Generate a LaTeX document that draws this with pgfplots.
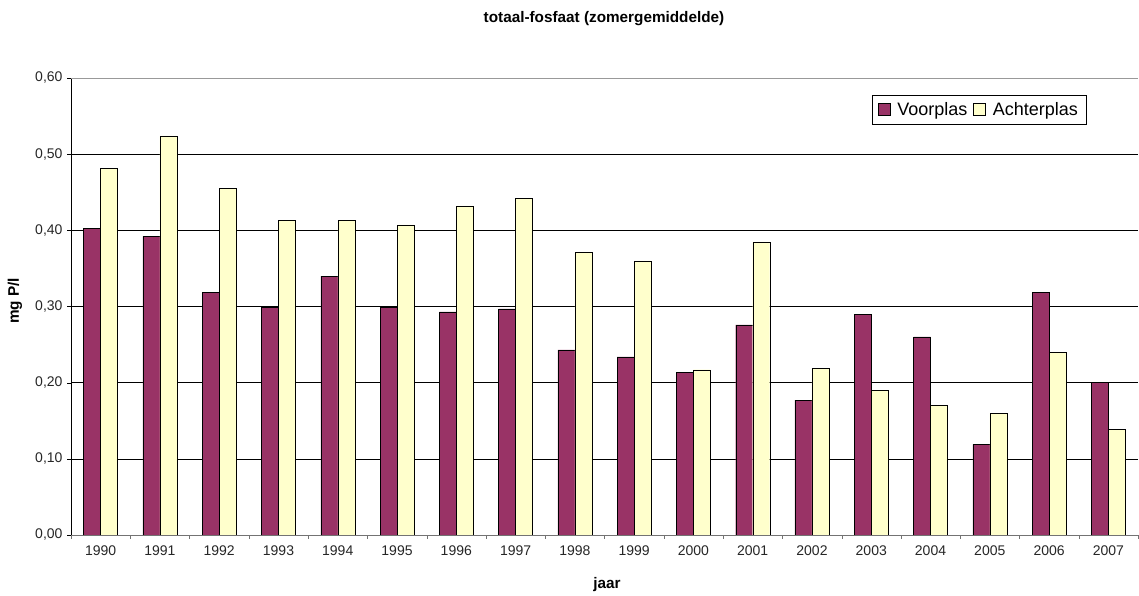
\documentclass[border=0pt]{standalone}
\usepackage{pgfplots}
\pgfplotsset{compat=1.18}
\usepackage{fontspec}
\setmainfont{Liberation Sans}

\definecolor{voorplas}{HTML}{993366}
\definecolor{achterplas}{HTML}{FFFFCC}

% zomergemiddelde totaal-fosfaat (mg P/l), 1990-2007
\pgfplotstableread{
x  jaar  voor   achter
0  1990  0.403  0.481
1  1991  0.392  0.524
2  1992  0.319  0.455
3  1993  0.299  0.413
4  1994  0.340  0.413
5  1995  0.299  0.407
6  1996  0.293  0.432
7  1997  0.297  0.442
8  1998  0.243  0.371
9  1999  0.234  0.360
10 2000  0.214  0.217
11 2001  0.276  0.385
12 2002  0.177  0.219
13 2003  0.290  0.190
14 2004  0.260  0.170
15 2005  0.119  0.160
16 2006  0.319  0.240
17 2007  0.200  0.139
}\fosfaat

\begin{document}
\begin{tikzpicture}[x=1pt,y=1pt]
\path[use as bounding box] (0,0) rectangle (1139,596);
\begin{axis}[
  at={(71pt,61pt)}, anchor=south west,
  scale only axis, width=1067pt, height=457pt,
  xmin=-0.5, xmax=17.5, ymin=0, ymax=0.6,
  ybar, bar width=17pt,
  axis x line*=bottom, axis y line*=left,
  x axis line style={draw=gray!90!black},
  y axis line style={draw=black},
  xtick=data, xticklabels={1990,1991,1992,1993,1994,1995,1996,1997,1998,1999,2000,2001,2002,2003,2004,2005,2006,2007},
  major x tick style={draw=none},
  minor xtick={-0.5,0.5,...,17.5},
  minor x tick style={draw=gray!90!black},
  minor tick length=4pt,
  ytick={0,0.1,...,0.61},
  major tick length=4pt,
  tick align=outside,
  y tick style={draw=black},
  ymajorgrids, grid style={black, line width=0.5pt},
  yticklabel style={/pgf/number format/fixed, /pgf/number format/fixed zerofill,
    /pgf/number format/precision=2, /pgf/number format/use comma,
    /pgf/number format/assume math mode=true, xshift=-1pt},
  ticklabel style={font=\fontsize{14}{16}\selectfont, text=black!85},
  xticklabel style={yshift=-3pt},
  legend columns=2,
  legend style={at={(rel axis cs:1,1)}, xshift=-52pt, yshift=-17pt, anchor=north east,
    draw=black, font=\fontsize{18}{21}\selectfont,
    /tikz/every odd column/.append style={column sep=5pt},
    /tikz/every even column/.append style={column sep=4pt},
    inner xsep=6pt, inner ysep=5pt},
  legend image code/.code={\draw[#1, draw=black] (0pt,-6pt) rectangle (12pt,6pt);},
]
\addplot[fill=voorplas, draw=black, bar shift=-8.5pt] table[x=x, y=voor] {\fosfaat};
\addplot[fill=achterplas, draw=black, bar shift=8.5pt] table[x=x, y=achter] {\fosfaat};
\legend{Voorplas, Achterplas}
\draw[gray!80] (rel axis cs:0,1) -- (rel axis cs:1,1);
\end{axis}
\node[font=\bfseries\fontsize{15.3}{18}\selectfont] at (604,577) {totaal-fosfaat (zomergemiddelde)};
\node[font=\bfseries\fontsize{15.3}{18}\selectfont] at (607,11) {jaar};
\node[font=\bfseries\fontsize{15.3}{18}\selectfont, rotate=90] at (15,295) {mg P/l};
\end{tikzpicture}
\end{document}
